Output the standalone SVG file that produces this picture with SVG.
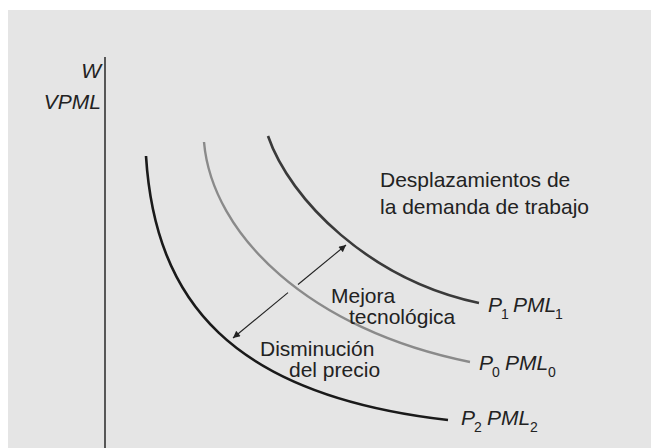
<svg xmlns="http://www.w3.org/2000/svg" width="651" height="448" viewBox="0 0 651 448">
<defs>
<style>
.t{font-family:"Liberation Sans",Arial,sans-serif;font-size:21px;fill:#222}
.i{font-style:italic}
.s{font-size:14px;font-style:normal}
.c{fill:none;stroke-linecap:butt}
</style>
<marker id="ah" viewBox="0 0 10 10" refX="10" refY="5" markerWidth="10" markerHeight="7" markerUnits="userSpaceOnUse" orient="auto">
<path d="M0,0 L10,5 L0,10 z" fill="#222"/>
</marker>
</defs>
<rect x="0" y="0" width="651" height="448" fill="#fff"/>
<rect x="8" y="10" width="643" height="438" fill="#e5e5e5"/>
<g id="axis">
<line x1="105" y1="57" x2="105" y2="448" stroke="#333" stroke-width="1.6"/>
<text class="t i" x="101" y="78" text-anchor="end">W</text>
<text class="t i" x="101" y="109" text-anchor="end">VPML</text>
</g>
<g id="curve-p1">
<path class="c" d="M268,136 C290,200 370,280 479,303" stroke="#3a3a3a" stroke-width="2.6"/>
<text class="t i" x="488" y="312">P<tspan class="s" x="501" y="318.5">1</tspan><tspan x="513" y="312">PML</tspan><tspan class="s" x="555" y="318.5">1</tspan></text>
</g>
<g id="curve-p0">
<path class="c" d="M204,142 C212,235 310,330 470,362" stroke="#8a8a8a" stroke-width="2.4"/>
<text class="t i" x="479" y="370">P<tspan class="s" x="492" y="376.5">0</tspan><tspan x="505" y="370">PML</tspan><tspan class="s" x="548" y="376.5">0</tspan></text>
</g>
<g id="curve-p2">
<path class="c" d="M146,156 C155,300 230,395 448,420" stroke="#1a1a1a" stroke-width="2.6"/>
<text class="t i" x="461" y="425">P<tspan class="s" x="474" y="431.5">2</tspan><tspan x="487" y="425">PML</tspan><tspan class="s" x="530" y="431.5">2</tspan></text>
</g>
<g id="connectors">
<line x1="298" y1="284.5" x2="346" y2="245" stroke="#222" stroke-width="1.1" marker-end="url(#ah)"/>
<line x1="288" y1="292.7" x2="233" y2="338" stroke="#222" stroke-width="1.1" marker-end="url(#ah)"/>
</g>
<g id="label-shifts">
<text class="t" x="380" y="187">Desplazamientos de</text>
<text class="t" x="380" y="214">la demanda de trabajo</text>
</g>
<g id="label-tech">
<text class="t" x="331" y="303">Mejora</text>
<text class="t" x="349" y="323.5">tecnológica</text>
</g>
<g id="label-price">
<text class="t" x="260" y="356">Disminución</text>
<text class="t" x="289" y="377">del precio</text>
</g>
</svg>
